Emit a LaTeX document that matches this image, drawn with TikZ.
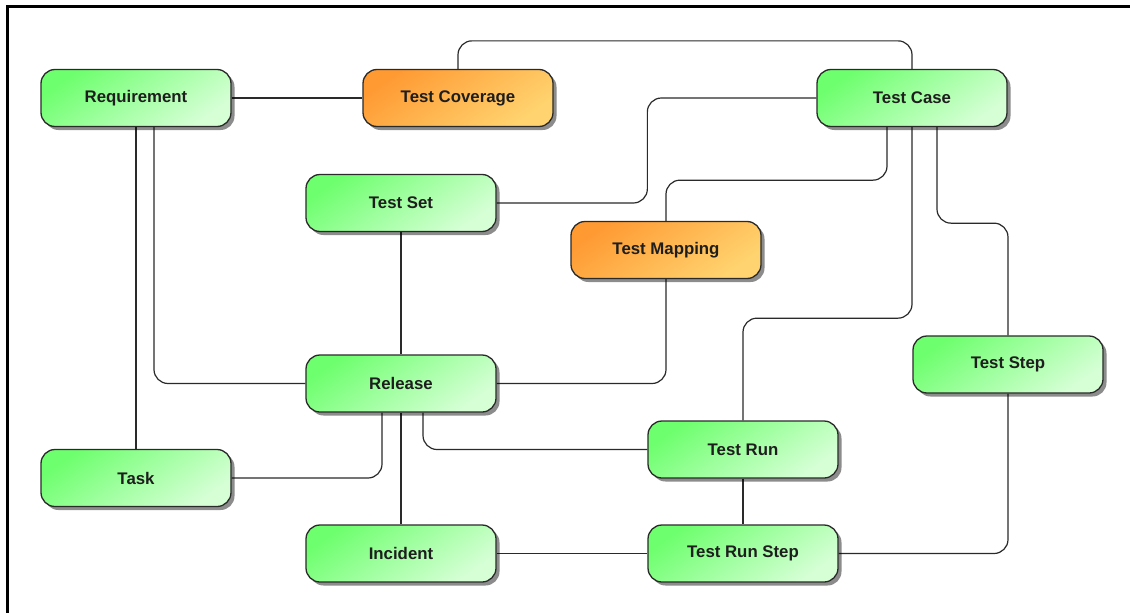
\documentclass[tikz,border=0pt]{standalone}
\usepackage{fontspec}
\setmainfont{Liberation Sans}
\usetikzlibrary{shadows,backgrounds}
\definecolor{gA}{HTML}{6EFF6E}
\definecolor{gM}{HTML}{A8FFA8}
\definecolor{gB}{HTML}{D6FFD6}
\definecolor{oA}{HTML}{FF9A33}
\definecolor{oM}{HTML}{FFB850}
\definecolor{oB}{HTML}{FFD470}
\definecolor{edge}{HTML}{2A2A2A}
\definecolor{txt}{HTML}{1E1E1E}
\tikzset{
  entity/.style={draw=edge, line width=1.3pt, rounded corners=14pt,
    minimum width=190pt, minimum height=57pt, inner sep=0pt,
    font=\fontsize{16.8}{20}\selectfont\bfseries, text=txt,
    drop shadow={shadow xshift=3.5pt, shadow yshift=-3.5pt, opacity=0.45, fill=black}},
  greenbox/.style={entity, top color=gA, middle color=gM, bottom color=gB, shading angle=35},
  orangebox/.style={entity, top color=oA, middle color=oM, bottom color=oB, shading angle=35},
  conn/.style={draw=edge, line width=1.2pt, rounded corners=14pt},
  frameline/.style={draw=black, line width=3pt}
}
\begin{document}
\begin{tikzpicture}[x=1pt, y=-1pt]
\useasboundingbox (0,0) rectangle (1130,613);
\coordinate (fTL) at (7.5,6.5);
\coordinate (fTR) at (1130,6.5);
\coordinate (fBL) at (7.5,613);

\node[greenbox]  (req)   at (136,98)   {Requirement};
\node[orangebox] (tcov)  at (458,98)   {Test Coverage};
\node[greenbox]  (tcase) at (912,98)   {Test Case};
\node[greenbox]  (tset)  at (401,203)  {Test Set};
\node[orangebox] (tmap)  at (666,250)  {Test Mapping};
\node[greenbox]  (rel)   at (401,383.5){Release};
\node[greenbox]  (tstep) at (1008,364.5){Test Step};
\node[greenbox]  (trun)  at (743,449.5){Test Run};
\node[greenbox]  (task)  at (136,478)  {Task};
\node[greenbox]  (inc)   at (401,553.5){Incident};
\node[greenbox]  (trs)   at (743,553.5){Test Run Step};

\begin{scope}[on background layer]
\fill[white] (0,0) rectangle (1130,613);
\draw[frameline] (fTR) -- (fTL) -- (fBL);
% connectors
\draw[conn] (req.east) -- (tcov.west);
\draw[conn] (tcov.north) -- ++(0,-28) -| (tcase.north);
\draw[conn] (tcase.west) -- ++(-169,0) |- (tset.east);
\draw[conn] ([xshift=-25pt]tcase.south) -- ++(0,53) -| (tmap.north);
\draw[conn] (tcase.south) -- ++(0,191) -| (trun.north);
\draw[conn] ([xshift=25pt]tcase.south) -- ++(0,96) -| (tstep.north);
\draw[conn] (tstep.south) |- (trs.east);
\draw[conn] (trun.south) -- (trs.north);
\draw[conn] (inc.east) -- (trs.west);
\draw[conn] (tset.south) -- (rel.north);
\draw[conn] (rel.east) -| (tmap.south);
\draw[conn] ([xshift=-19pt]rel.south) |- (task.east);
\draw[conn] (rel.south) -- (inc.north);
\draw[conn] ([xshift=22pt]rel.south) |- (trun.west);
\draw[conn] (req.south) -- (task.north);
\draw[conn] ([xshift=18pt]req.south) |- (rel.west);
\end{scope}
\end{tikzpicture}
\end{document}
